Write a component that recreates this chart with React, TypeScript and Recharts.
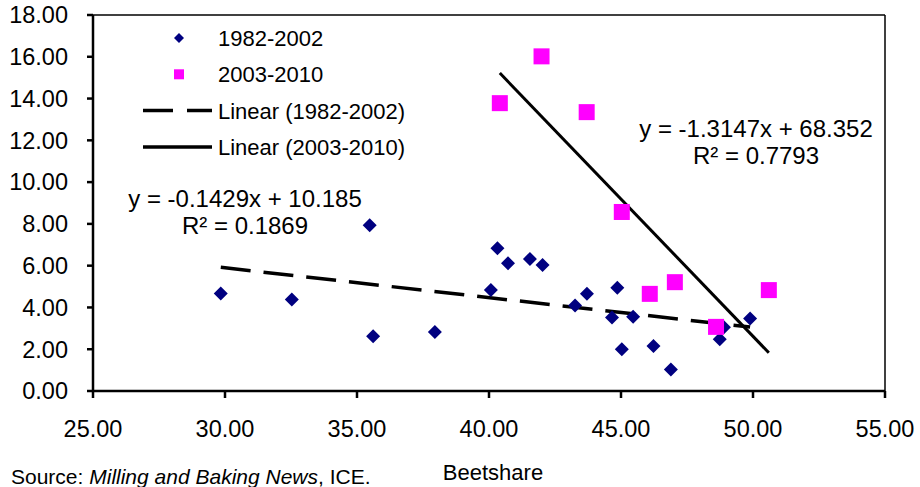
import React from "react";
import { ScatterChart, Scatter, XAxis, YAxis, ReferenceLine, Legend } from "recharts";

// beetshare vs value
const early = [
  { x: 29.84, y: 4.67 },
  { x: 32.53, y: 4.38 },
  { x: 35.48, y: 7.93 },
  { x: 35.61, y: 2.62 },
  { x: 37.95, y: 2.82 },
  { x: 40.07, y: 4.83 },
  { x: 40.32, y: 6.83 },
  { x: 40.72, y: 6.11 },
  { x: 41.55, y: 6.32 },
  { x: 42.03, y: 6.03 },
  { x: 43.26, y: 4.09 },
  { x: 43.71, y: 4.65 },
  { x: 44.66, y: 3.52 },
  { x: 44.86, y: 4.94 },
  { x: 45.03, y: 2.0 },
  { x: 45.46, y: 3.55 },
  { x: 46.23, y: 2.16 },
  { x: 46.89, y: 1.03 },
  { x: 48.74, y: 2.48 },
  { x: 48.9, y: 3.05 },
  { x: 49.89, y: 3.47 },
];

const late = [
  { x: 40.41, y: 13.78 },
  { x: 41.99, y: 16.02 },
  { x: 43.7, y: 13.35 },
  { x: 45.03, y: 8.57 },
  { x: 46.09, y: 4.65 },
  { x: 47.04, y: 5.21 },
  { x: 48.6, y: 3.07 },
  { x: 50.6, y: 4.83 },
];

// trendline end points
const trendEarly = [
  { x: 29.84, y: 5.92 },
  { x: 49.89, y: 3.06 },
];
const trendLate = [
  { x: 40.41, y: 15.22 },
  { x: 50.6, y: 1.83 },
];

const xTicks = [25, 30, 35, 40, 45, 50, 55];
const yTicks = [0, 2, 4, 6, 8, 10, 12, 14, 16, 18];
const legendNames = ["1982-2002", "2003-2010", "Linear (1982-2002)", "Linear (2003-2010)"];
const eqEarly = ["y = -0.1429x + 10.185", "R² = 0.1869"];
const eqLate = ["y = -1.3147x + 68.352", "R² = 0.7793"];

const FONT = '"Liberation Sans", Arial, sans-serif';
const NAVY = "#000080";
const MAGENTA = "#FF00FF";

const Diamond = (props: any) => {
  const { cx, cy } = props;
  const r = 7;
  return <path d={`M${cx},${cy - r}L${cx + r},${cy}L${cx},${cy + r}L${cx - r},${cy}Z`} fill={NAVY} />;
};

const Square = (props: any) => {
  const { cx, cy } = props;
  const h = 8;
  return <rect x={cx - h} y={cy - h} width={h * 2} height={h * 2} fill={MAGENTA} />;
};

const renderLegend = () => {
  const rowH = 36.3;
  return (
    <svg width={270} height={150} style={{ display: "block" }}>
      {legendNames.map((name, i) => {
        const cy = 18 + i * rowH;
        let sym;
        if (i === 0) sym = <path d={`M36,${cy - 5}L41,${cy}L36,${cy + 5}L31,${cy}Z`} fill={NAVY} />;
        else if (i === 1) sym = <rect x={31} y={cy - 5} width={10} height={10} fill={MAGENTA} />;
        else
          sym = (
            <line x1={0} y1={cy} x2={69} y2={cy} stroke="#000" strokeWidth={3.5}
              strokeDasharray={i === 2 ? "30 14" : undefined} />
          );
        return (
          <g key={name}>
            {sym}
            <text x={75} y={cy} dy="0.36em" fontSize={22} fontFamily={FONT} fill="#000">
              {name}
            </text>
          </g>
        );
      })}
    </svg>
  );
};

const textStyle: React.CSSProperties = {
  position: "absolute",
  fontFamily: FONT,
  fontSize: 22,
  color: "#000",
  whiteSpace: "nowrap",
};

export default function App() {
  return (
    <div style={{ position: "absolute", left: 0, top: 0, width: 920, height: 487, background: "#fff", overflow: "hidden" }}>
      <ScatterChart width={920} height={487} margin={{ top: 15, right: 35, bottom: 0, left: 0 }}>
        <XAxis
          type="number"
          dataKey="x"
          domain={[25, 55]}
          ticks={xTicks}
          tickFormatter={(v: number) => v.toFixed(2)}
          height={96}
          tickSize={7}
          tickMargin={22}
          stroke="#000"
          strokeWidth={2.5}
          tick={{ fill: "#000", fontSize: 23.5, fontFamily: FONT }}
          interval={0}
        />
        <YAxis
          type="number"
          dataKey="y"
          domain={[0, 18]}
          ticks={yTicks}
          tickFormatter={(v: number) => v.toFixed(2)}
          width={93}
          tickSize={6}
          tickMargin={19}
          stroke="#000"
          strokeWidth={2.5}
          tick={{ fill: "#000", fontSize: 23.5, fontFamily: FONT }}
          interval={0}
        />
        <ReferenceLine y={18} stroke="#000" strokeWidth={1.5} />
        <ReferenceLine x={55} stroke="#000" strokeWidth={1.5} />
        <Scatter name="1982-2002" data={early} shape={Diamond} isAnimationActive={false} />
        <Scatter name="2003-2010" data={late} shape={Square} isAnimationActive={false} />
        <ReferenceLine
          segment={trendEarly}
          stroke="#000"
          strokeWidth={3.5}
          strokeDasharray="30 13"
        />
        <ReferenceLine segment={trendLate} stroke="#000" strokeWidth={3} />
        <Legend
          layout="vertical"
          align="center"
          verticalAlign="middle"
          content={renderLegend}
          wrapperStyle={{ left: 143, top: 20, width: 270, height: 150 }}
        />
      </ScatterChart>
      <div style={{ ...textStyle, fontSize: 24, left: 125, top: 185, width: 240, lineHeight: "27px", textAlign: "center" }}>
        {eqEarly.map((t) => (
          <div key={t}>{t}</div>
        ))}
      </div>
      <div style={{ ...textStyle, fontSize: 24, left: 636, top: 115, width: 240, lineHeight: "27px", textAlign: "center" }}>
        {eqLate.map((t) => (
          <div key={t}>{t}</div>
        ))}
      </div>
      <div style={{ ...textStyle, left: 393, top: 462, width: 200, lineHeight: "22px", textAlign: "center" }}>
        Beetshare
      </div>
      <div style={{ ...textStyle, left: 11, top: 466, fontSize: 21, lineHeight: "22px" }}>
        Source: <i>Milling and Baking News</i>, ICE.
      </div>
    </div>
  );
}
